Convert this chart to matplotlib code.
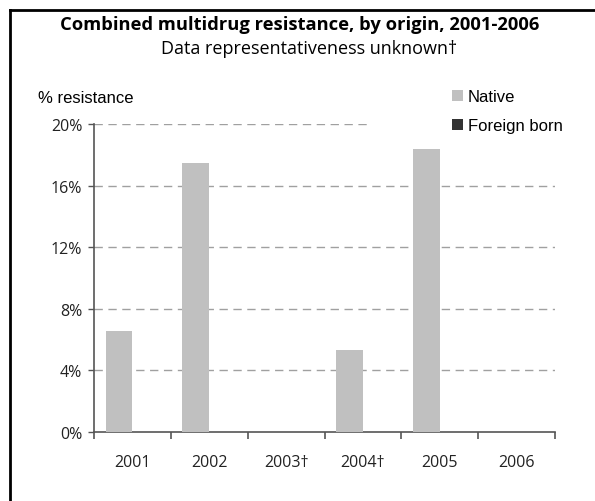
import matplotlib.pyplot as plt
import numpy as np

years = ["2001", "2002", "2003†", "2004†", "2005", "2006"]
native = [6.55, 17.5, 0, 5.3, 18.35, 0]
foreign_born = [0, 0, 0, 0, 0, 0]
y_ticks = [0, 4, 8, 12, 16, 20]

fig = plt.figure(figsize=(5.95, 5.02), dpi=100)
ax = fig.add_axes([94 / 595, 1 - 433 / 502, (555 - 94) / 595, (433 - 125) / 502])

x = np.arange(len(years))
w = 0.35
ax.bar(x - w / 2, native, width=w, color="#c0c0c0", label="Native", zorder=3)
ax.bar(x + w / 2, foreign_born, width=w, color="#333333", label="Foreign born", zorder=3)

ax.set_xlim(-0.5, len(years) - 0.5)
ax.set_ylim(0, 20)

# dashed gridlines, the top one stops short of the legend
for t in y_ticks[1:]:
    x_end = 3.1 if t == 20 else len(years) - 0.5
    ax.hlines(t, -0.5, x_end, colors="#a0a0a0", linewidth=1,
              linestyles=(0, (6, 4)), zorder=1)

for s in ["top", "right"]:
    ax.spines[s].set_visible(False)
for s in ["left", "bottom"]:
    ax.spines[s].set_color("#555555")
    ax.spines[s].set_linewidth(1.2)

ax.set_yticks(y_ticks)
ax.set_yticklabels([f"{t}%" for t in y_ticks], fontfamily="Open Sans", fontsize=11.5, color="#222222")
ax.tick_params(axis="y", length=4.5, width=1, color="#555555", pad=4)

ax.set_xticks(x)
ax.set_xticklabels(years, fontfamily="Open Sans", fontsize=11.5, color="#222222")
ax.tick_params(axis="x", which="major", length=0, pad=16)
ax.set_xticks(np.arange(-0.5, len(years)), minor=True)
ax.tick_params(axis="x", which="minor", length=5, width=1.2, color="#555555")

fig.text(0.503, 1 - 30 / 502, "Combined multidrug resistance, by origin, 2001-2006",
         ha="center", va="baseline", fontfamily="Open Sans", fontweight="bold", fontsize=13.2)
fig.text(0.52, 1 - 54 / 502, "Data representativeness unknown†",
         ha="center", va="baseline", fontfamily="Open Sans", fontsize=13)
fig.text(38 / 595, 1 - 103 / 502, "% resistance", ha="left", va="baseline",
         fontfamily="Liberation Sans", fontsize=12)

fig.legend(loc="upper left", bbox_to_anchor=(452 / 595, 1 - 90 / 502), frameon=False,
           prop={"family": "Liberation Sans", "size": 12},
           handlelength=0.66, handleheight=0.66, handletextpad=0.3, labelspacing=0.85,
           borderpad=0, borderaxespad=0)

# border lines at top and left
fig.add_artist(plt.Line2D([10 / 595, 1], [1 - 11 / 502, 1 - 11 / 502], color="black", linewidth=2))
fig.add_artist(plt.Line2D([10 / 595, 10 / 595], [0, 1 - 11 / 502], color="black", linewidth=2))

fig.savefig("out.png", dpi=100)
